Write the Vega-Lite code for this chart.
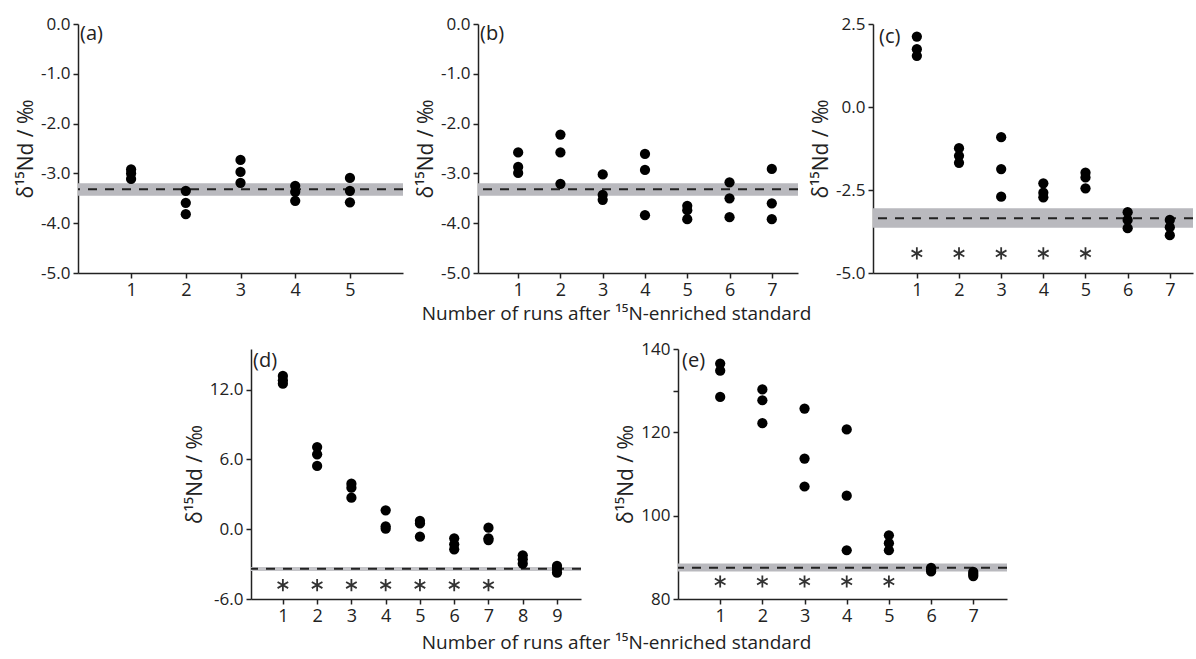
{
  "$schema": "https://vega.github.io/schema/vega-lite/v6.json",
  "padding": {"left": 15, "top": 15, "right": 0, "bottom": 4},
  "background": "white",
  "config": {
    "view": {"stroke": null},
    "font": "Open Sans",
    "axis": {"grid": false, "domainColor": "#222", "domainWidth": 1.5, "tickColor": "#222", "tickWidth": 1.5, "tickSize": 5, "labelFont": "Open Sans", "labelColor": "#222", "labelPadding": 3, "titleFont": "Open Sans", "titleFontWeight": "normal", "titleColor": "#222"},
    "axisX": {"labelFontSize": 18, "format": "d"},
    "axisY": {"labelFontSize": 17, "titleFontSize": 21, "titlePadding": 4}
  },
  "datasets": {
    "pts": [
      {"p":"a","run":1,"v":-2.92},{"p":"a","run":1,"v":-3.0},{"p":"a","run":1,"v":-3.11},
      {"p":"a","run":2,"v":-3.35},{"p":"a","run":2,"v":-3.59},{"p":"a","run":2,"v":-3.82},
      {"p":"a","run":3,"v":-2.73},{"p":"a","run":3,"v":-2.97},{"p":"a","run":3,"v":-3.19},
      {"p":"a","run":4,"v":-3.25},{"p":"a","run":4,"v":-3.37},{"p":"a","run":4,"v":-3.55},
      {"p":"a","run":5,"v":-3.09},{"p":"a","run":5,"v":-3.35},{"p":"a","run":5,"v":-3.58},
      {"p":"b","run":1,"v":-2.58},{"p":"b","run":1,"v":-2.87},{"p":"b","run":1,"v":-2.99},
      {"p":"b","run":2,"v":-2.22},{"p":"b","run":2,"v":-2.58},{"p":"b","run":2,"v":-3.21},
      {"p":"b","run":3,"v":-3.02},{"p":"b","run":3,"v":-3.43},{"p":"b","run":3,"v":-3.53},
      {"p":"b","run":4,"v":-2.61},{"p":"b","run":4,"v":-2.93},{"p":"b","run":4,"v":-3.84},
      {"p":"b","run":5,"v":-3.65},{"p":"b","run":5,"v":-3.74},{"p":"b","run":5,"v":-3.92},
      {"p":"b","run":6,"v":-3.18},{"p":"b","run":6,"v":-3.5},{"p":"b","run":6,"v":-3.88},
      {"p":"b","run":7,"v":-2.91},{"p":"b","run":7,"v":-3.6},{"p":"b","run":7,"v":-3.92},
      {"p":"c","run":1,"v":2.12},{"p":"c","run":1,"v":1.74},{"p":"c","run":1,"v":1.54},
      {"p":"c","run":2,"v":-1.24},{"p":"c","run":2,"v":-1.47},{"p":"c","run":2,"v":-1.68},
      {"p":"c","run":3,"v":-0.91},{"p":"c","run":3,"v":-1.87},{"p":"c","run":3,"v":-2.7},
      {"p":"c","run":4,"v":-2.3},{"p":"c","run":4,"v":-2.58},{"p":"c","run":4,"v":-2.72},
      {"p":"c","run":5,"v":-1.98},{"p":"c","run":5,"v":-2.12},{"p":"c","run":5,"v":-2.45},
      {"p":"c","run":6,"v":-3.17},{"p":"c","run":6,"v":-3.4},{"p":"c","run":6,"v":-3.65},
      {"p":"c","run":7,"v":-3.4},{"p":"c","run":7,"v":-3.62},{"p":"c","run":7,"v":-3.86},
      {"p":"d","run":1,"v":13.18},{"p":"d","run":1,"v":12.81},{"p":"d","run":1,"v":12.52},
      {"p":"d","run":2,"v":7.07},{"p":"d","run":2,"v":6.44},{"p":"d","run":2,"v":5.44},
      {"p":"d","run":3,"v":3.92},{"p":"d","run":3,"v":3.57},{"p":"d","run":3,"v":2.71},
      {"p":"d","run":4,"v":1.63},{"p":"d","run":4,"v":0.25},{"p":"d","run":4,"v":0.05},
      {"p":"d","run":5,"v":0.72},{"p":"d","run":5,"v":0.5},{"p":"d","run":5,"v":-0.64},
      {"p":"d","run":6,"v":-0.78},{"p":"d","run":6,"v":-1.3},{"p":"d","run":6,"v":-1.73},
      {"p":"d","run":7,"v":0.13},{"p":"d","run":7,"v":-0.78},{"p":"d","run":7,"v":-0.93},
      {"p":"d","run":8,"v":-2.24},{"p":"d","run":8,"v":-2.59},{"p":"d","run":8,"v":-2.96},
      {"p":"d","run":9,"v":-3.16},{"p":"d","run":9,"v":-3.42},{"p":"d","run":9,"v":-3.74},
      {"p":"e","run":1,"v":136.5},{"p":"e","run":1,"v":134.8},{"p":"e","run":1,"v":128.5},
      {"p":"e","run":2,"v":130.3},{"p":"e","run":2,"v":127.7},{"p":"e","run":2,"v":122.2},
      {"p":"e","run":3,"v":125.7},{"p":"e","run":3,"v":113.7},{"p":"e","run":3,"v":107.0},
      {"p":"e","run":4,"v":120.7},{"p":"e","run":4,"v":104.8},{"p":"e","run":4,"v":91.7},
      {"p":"e","run":5,"v":95.3},{"p":"e","run":5,"v":93.4},{"p":"e","run":5,"v":91.7},
      {"p":"e","run":6,"v":87.5},{"p":"e","run":6,"v":87.1},{"p":"e","run":6,"v":86.6},
      {"p":"e","run":7,"v":86.5},{"p":"e","run":7,"v":86.0},{"p":"e","run":7,"v":85.5}
    ],
    "ref": [
      {"p":"a","mean":-3.32,"lo":-3.45,"hi":-3.2},
      {"p":"b","mean":-3.32,"lo":-3.45,"hi":-3.2},
      {"p":"c","mean":-3.35,"lo":-3.64,"hi":-3.05},
      {"p":"d","mean":-3.39,"lo":-3.59,"hi":-3.25},
      {"p":"e","mean":87.5,"lo":86.6,"hi":88.5}
    ],
    "sig": [
      {"p":"c","run":1},{"p":"c","run":2},{"p":"c","run":3},{"p":"c","run":4},{"p":"c","run":5},
      {"p":"d","run":1},{"p":"d","run":2},{"p":"d","run":3},{"p":"d","run":4},{"p":"d","run":5},{"p":"d","run":6},{"p":"d","run":7},
      {"p":"e","run":1},{"p":"e","run":2},{"p":"e","run":3},{"p":"e","run":4},{"p":"e","run":5}
    ]
  },
  "spacing": 17,
  "vconcat": [
    {
      "spacing": 75,
      "bounds": "flush",
      "hconcat": [
        {
          "width": 325, "height": 249,
          "layer": [
            {"data": {"name": "ref"}, "transform": [{"filter": "datum.p==='a'"}], "mark": {"type": "rect", "color": "#b9b9be"},
             "encoding": {"y": {"field": "lo", "type": "quantitative", "scale": {"domain": [-5, 0], "nice": false}, "axis": {"values": [-5,-4,-3,-2,-1,0], "labelExpr": "replace(format(datum.value, '.1f'), '\u2212', '-')", "title": "δ¹⁵Nd / ‰"}}, "y2": {"field": "hi"}}},
            {"data": {"name": "ref"}, "transform": [{"filter": "datum.p==='a'"}], "mark": {"type": "rule", "color": "#222", "strokeWidth": 2, "strokeDash": [9, 8]},
             "encoding": {"y": {"field": "mean", "type": "quantitative", "axis": {"values": [-5,-4,-3,-2,-1,0], "labelExpr": "replace(format(datum.value, '.1f'), '\u2212', '-')", "title": "δ¹⁵Nd / ‰"}}}},
            {"data": {"name": "pts"}, "transform": [{"filter": "datum.p==='a'"}], "mark": {"type": "circle", "size": 105, "color": "#000", "opacity": 1},
             "encoding": {"x": {"field": "run", "type": "quantitative", "scale": {"domain": [0.03, 5.97], "nice": false}, "axis": {"values": [1,2,3,4,5], "title": null}},
                          "y": {"field": "v", "type": "quantitative", "axis": {"values": [-5,-4,-3,-2,-1,0], "labelExpr": "replace(format(datum.value, '.1f'), '\u2212', '-')", "title": "δ¹⁵Nd / ‰"}}}},
            {"data": {"values": [{}]}, "mark": {"type": "text", "text": "(a)", "align": "left", "baseline": "top", "fontSize": 20, "dx": 2, "color": "#222"},
             "encoding": {"x": {"datum": 0.03}, "y": {"datum": 0}}}
          ]
        },
        {
          "width": 320, "height": 249,
          "layer": [
            {"data": {"name": "ref"}, "transform": [{"filter": "datum.p==='b'"}], "mark": {"type": "rect", "color": "#b9b9be"},
             "encoding": {"y": {"field": "lo", "type": "quantitative", "scale": {"domain": [-5, 0], "nice": false}, "axis": {"values": [-5,-4,-3,-2,-1,0], "labelExpr": "replace(format(datum.value, '.1f'), '\u2212', '-')", "title": "δ¹⁵Nd / ‰"}}, "y2": {"field": "hi"}}},
            {"data": {"name": "ref"}, "transform": [{"filter": "datum.p==='b'"}], "mark": {"type": "rule", "color": "#222", "strokeWidth": 2, "strokeDash": [9, 8]},
             "encoding": {"y": {"field": "mean", "type": "quantitative", "axis": {"values": [-5,-4,-3,-2,-1,0], "labelExpr": "replace(format(datum.value, '.1f'), '\u2212', '-')", "title": "δ¹⁵Nd / ‰"}}}},
            {"data": {"name": "pts"}, "transform": [{"filter": "datum.p==='b'"}], "mark": {"type": "circle", "size": 105, "color": "#000", "opacity": 1},
             "encoding": {"x": {"field": "run", "type": "quantitative", "scale": {"domain": [0.05, 7.62], "nice": false}, "axis": {"values": [1,2,3,4,5,6,7], "title": "Number of runs after ¹⁵N-enriched standard", "titleX": 138, "titleY": 31, "titleBaseline": "top", "titleAlign": "center", "titleFontSize": 19}},
                          "y": {"field": "v", "type": "quantitative", "axis": {"values": [-5,-4,-3,-2,-1,0], "labelExpr": "replace(format(datum.value, '.1f'), '\u2212', '-')", "title": "δ¹⁵Nd / ‰"}}}},
            {"data": {"values": [{}]}, "mark": {"type": "text", "text": "(b)", "align": "left", "baseline": "top", "fontSize": 20, "dx": 2, "color": "#222"},
             "encoding": {"x": {"datum": 0.05}, "y": {"datum": 0}}}
          ]
        },
        {
          "width": 320, "height": 249,
          "layer": [
            {"data": {"name": "ref"}, "transform": [{"filter": "datum.p==='c'"}], "mark": {"type": "rect", "color": "#b9b9be"},
             "encoding": {"y": {"field": "lo", "type": "quantitative", "scale": {"domain": [-5, 2.5], "nice": false}, "axis": {"values": [-5,-2.5,0,2.5], "labelExpr": "replace(format(datum.value, '.1f'), '\u2212', '-')", "title": "δ¹⁵Nd / ‰"}}, "y2": {"field": "hi"}}},
            {"data": {"name": "ref"}, "transform": [{"filter": "datum.p==='c'"}], "mark": {"type": "rule", "color": "#222", "strokeWidth": 2, "strokeDash": [9, 8]},
             "encoding": {"y": {"field": "mean", "type": "quantitative", "axis": {"values": [-5,-2.5,0,2.5], "labelExpr": "replace(format(datum.value, '.1f'), '\u2212', '-')", "title": "δ¹⁵Nd / ‰"}}}},
            {"data": {"name": "pts"}, "transform": [{"filter": "datum.p==='c'"}], "mark": {"type": "circle", "size": 105, "color": "#000", "opacity": 1},
             "encoding": {"x": {"field": "run", "type": "quantitative", "scale": {"domain": [-0.04, 7.55], "nice": false}, "axis": {"values": [1,2,3,4,5,6,7], "title": null}},
                          "y": {"field": "v", "type": "quantitative", "axis": {"values": [-5,-2.5,0,2.5], "labelExpr": "replace(format(datum.value, '.1f'), '\u2212', '-')", "title": "δ¹⁵Nd / ‰"}}}},
            {"data": {"name": "sig"}, "transform": [{"filter": "datum.p==='c'"}], "mark": {"type": "point", "shape": "M0,-1L0,1M-0.866,-0.5L0.866,0.5M-0.866,0.5L0.866,-0.5", "size": 150, "filled": false, "stroke": "#333", "strokeWidth": 1.8, "opacity": 1},
             "encoding": {"x": {"field": "run", "type": "quantitative", "axis": {"values": [1,2,3,4,5,6,7], "title": null}}, "y": {"datum": -4.41}}},
            {"data": {"values": [{}]}, "mark": {"type": "text", "text": "(c)", "align": "left", "baseline": "top", "fontSize": 20, "dx": 6, "dy": 3, "color": "#222"},
             "encoding": {"x": {"datum": -0.04}, "y": {"datum": 2.5}}}
          ]
        }
      ]
    },
    {
      "spacing": 97,
      "bounds": "flush",
      "hconcat": [
        {"width": 76, "height": 250, "data": {"values": [{}]}, "mark": {"type": "point", "opacity": 0}},
        {
          "width": 330, "height": 250,
          "layer": [
            {"data": {"name": "ref"}, "transform": [{"filter": "datum.p==='d'"}], "mark": {"type": "rect", "color": "#c4c4c8"},
             "encoding": {"y": {"field": "lo", "type": "quantitative", "scale": {"domain": [-6, 15.5], "nice": false}, "axis": {"values": [-6,0,6,12], "labelExpr": "replace(format(datum.value, '.1f'), '\u2212', '-')", "title": "δ¹⁵Nd / ‰"}}, "y2": {"field": "hi"}}},
            {"data": {"name": "ref"}, "transform": [{"filter": "datum.p==='d'"}], "mark": {"type": "rule", "color": "#222", "strokeWidth": 2, "strokeDash": [9, 8]},
             "encoding": {"y": {"field": "mean", "type": "quantitative", "axis": {"values": [-6,0,6,12], "labelExpr": "replace(format(datum.value, '.1f'), '\u2212', '-')", "title": "δ¹⁵Nd / ‰"}}}},
            {"data": {"name": "pts"}, "transform": [{"filter": "datum.p==='d'"}], "mark": {"type": "circle", "size": 105, "color": "#000", "opacity": 1},
             "encoding": {"x": {"field": "run", "type": "quantitative", "scale": {"domain": [0.07, 9.7], "nice": false}, "axis": {"values": [1,2,3,4,5,6,7,8,9], "title": "Number of runs after ¹⁵N-enriched standard", "titleX": 365, "titleY": 34, "titleBaseline": "top", "titleAlign": "center", "titleFontSize": 19}},
                          "y": {"field": "v", "type": "quantitative", "axis": {"values": [-6,0,6,12], "labelExpr": "replace(format(datum.value, '.1f'), '\u2212', '-')", "title": "δ¹⁵Nd / ‰"}}}},
            {"data": {"name": "sig"}, "transform": [{"filter": "datum.p==='d'"}], "mark": {"type": "point", "shape": "M0,-1L0,1M-0.866,-0.5L0.866,0.5M-0.866,0.5L0.866,-0.5", "size": 150, "filled": false, "stroke": "#333", "strokeWidth": 1.8, "opacity": 1},
             "encoding": {"x": {"field": "run", "type": "quantitative", "axis": {"values": [1,2,3,4,5,6,7,8,9], "title": "Number of runs after ¹⁵N-enriched standard", "titleX": 365, "titleY": 34, "titleBaseline": "top", "titleAlign": "center", "titleFontSize": 19}}, "y": {"datum": -4.8}}},
            {"data": {"values": [{}]}, "mark": {"type": "text", "text": "(d)", "align": "left", "baseline": "top", "fontSize": 20, "dx": 2, "dy": 2, "color": "#222"},
             "encoding": {"x": {"datum": 0.07}, "y": {"datum": 15.5}}}
          ]
        },
        {
          "width": 329, "height": 250,
          "layer": [
            {"data": {"name": "ref"}, "transform": [{"filter": "datum.p==='e'"}], "mark": {"type": "rect", "color": "#b9b9be"},
             "encoding": {"y": {"field": "lo", "type": "quantitative", "scale": {"domain": [80, 140], "nice": false}, "axis": {"values": [80,100,120,130,140], "labelExpr": "datum.value == 130 ? '' : datum.label", "title": "δ¹⁵Nd / ‰"}}, "y2": {"field": "hi"}}},
            {"data": {"name": "ref"}, "transform": [{"filter": "datum.p==='e'"}], "mark": {"type": "rule", "color": "#222", "strokeWidth": 2, "strokeDash": [9, 8]},
             "encoding": {"y": {"field": "mean", "type": "quantitative", "axis": {"values": [80,100,120,130,140], "labelExpr": "datum.value == 130 ? '' : datum.label", "title": "δ¹⁵Nd / ‰"}}}},
            {"data": {"name": "pts"}, "transform": [{"filter": "datum.p==='e'"}], "mark": {"type": "circle", "size": 105, "color": "#000", "opacity": 1},
             "encoding": {"x": {"field": "run", "type": "quantitative", "scale": {"domain": [0, 7.8], "nice": false}, "axis": {"values": [1,2,3,4,5,6,7], "title": null}},
                          "y": {"field": "v", "type": "quantitative", "axis": {"values": [80,100,120,130,140], "labelExpr": "datum.value == 130 ? '' : datum.label", "title": "δ¹⁵Nd / ‰"}}}},
            {"data": {"name": "sig"}, "transform": [{"filter": "datum.p==='e'"}], "mark": {"type": "point", "shape": "M0,-1L0,1M-0.866,-0.5L0.866,0.5M-0.866,0.5L0.866,-0.5", "size": 150, "filled": false, "stroke": "#333", "strokeWidth": 1.8, "opacity": 1},
             "encoding": {"x": {"field": "run", "type": "quantitative", "axis": {"values": [1,2,3,4,5,6,7], "title": null}}, "y": {"datum": 84.2}}},
            {"data": {"values": [{}]}, "mark": {"type": "text", "text": "(e)", "align": "left", "baseline": "top", "fontSize": 20, "dx": 4, "dy": 2, "color": "#222"},
             "encoding": {"x": {"datum": 0}, "y": {"datum": 140}}}
          ]
        }
      ]
    }
  ]
}
